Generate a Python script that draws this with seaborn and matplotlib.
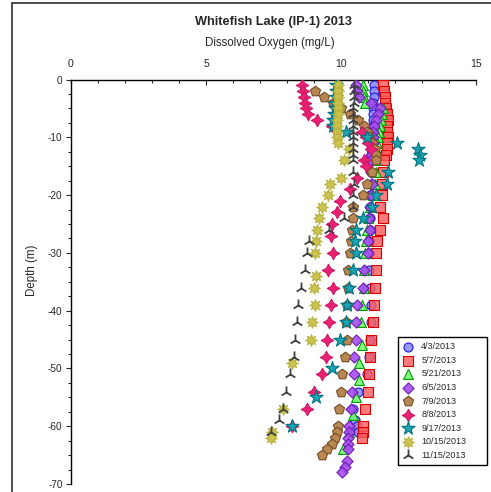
import pandas as pd
import seaborn as sns
import matplotlib.pyplot as plt
from matplotlib.lines import Line2D
from matplotlib.ticker import MultipleLocator

# depth (m) / dissolved oxygen (mg/L), one pair of lists per sampling date
dep_0403 = [1, 2, 3, 4, 5, 6, 7, 8, 9, 10, 11, 12, 13, 14, 16, 18, 20, 22, 24, 26, 28, 30,
            33, 36, 39, 42, 45, 48, 51, 54, 57, 59, 60, 61]
do_0403 = [11.22, 11.22, 11.22, 11.2, 11.2, 11.2, 11.18, 11.18, 11.16, 11.15, 11.13, 11.12, 11.1, 11.1,
           11.1, 11.1, 11.08, 11.07, 11.07, 11.06, 11.05, 11.05, 11.05, 11.07, 11.1, 11.1, 11.07, 11.05,
           10.95, 10.64, 10.43, 10.5, 10.58, 10.62]

dep_0507 = [1, 2, 3, 4, 5, 6, 7, 8, 9, 10, 11, 12, 13, 14, 16, 18, 20, 22, 24, 26, 28, 30,
            33, 36, 39, 42, 45, 48, 51, 54, 57, 60, 61, 62]
do_0507 = [11.54, 11.6, 11.63, 11.63, 11.66, 11.7, 11.73, 11.7, 11.72, 11.75, 11.71, 11.69, 11.67, 11.61,
           11.56, 11.5, 11.5, 11.45, 11.54, 11.44, 11.32, 11.28, 11.29, 11.26, 11.22, 11.17, 11.1, 11.07,
           11.05, 11.01, 10.89, 10.83, 10.8, 10.77]

dep_0521 = [1, 2, 3, 4, 5, 6, 7, 8, 9, 10, 11, 12, 13, 14, 16, 18, 20, 22, 24, 26, 28, 30,
            33, 36, 39, 42, 46, 49, 52, 55, 58, 61, 64]
do_0521 = [10.8, 10.83, 10.86, 10.9, 11.55, 11.5, 11.47, 11.44, 11.4, 11.37, 11.33, 11.3, 11.3, 11.3,
           11.28, 11.27, 11.2, 11.07, 11.0, 10.95, 10.93, 10.89, 10.85, 10.85, 10.77, 10.74, 10.77, 10.68,
           10.68, 10.56, 10.46, 10.3, 10.09]

dep_0605 = [1, 2, 3, 4, 5, 6, 7, 8, 9, 10, 11, 12, 13, 14, 16, 18, 20, 22, 24, 26, 28, 30,
            33, 36, 39, 42, 45, 48, 51, 54, 57, 60, 61, 62, 63, 64, 66, 67, 68]
do_0605 = [10.55, 10.6, 10.68, 11.1, 11.44, 11.38, 11.28, 11.22, 11.2, 11.2, 11.18, 11.15, 11.12, 11.1,
           11.1, 11.15, 11.1, 11.07, 11.05, 11.07, 11.0, 11.0, 10.85, 10.83, 10.6, 10.56, 10.56, 10.49,
           10.47, 10.4, 10.36, 10.31, 10.3, 10.27, 10.27, 10.27, 10.22, 10.15, 10.05]

dep_0709 = [2, 3, 4, 5, 6, 7, 8, 9, 10, 11, 12, 13, 14, 16, 18, 20, 22, 24, 26, 28, 30,
            33, 36, 39, 42, 45, 48, 51, 54, 57, 60, 61, 62, 63, 64, 65]
do_0709 = [9.04, 9.37, 9.7, 10.0, 10.35, 10.62, 10.86, 10.95, 11.05, 11.15, 11.25, 11.3, 11.3,
           11.13, 10.95, 10.82, 10.46, 10.43, 10.4, 10.37, 10.33, 10.27, 10.27, 10.23, 10.19, 10.21,
           10.15, 10.05, 9.99, 9.93, 9.9, 9.84, 9.78, 9.65, 9.49, 9.28]

dep_0808 = [1, 2, 3, 4, 5, 6, 7, 8, 9, 10, 11, 12, 14, 15, 17, 19, 21, 23, 25, 27, 30,
            33, 36, 39, 42, 45, 48, 51, 54, 57, 60]
do_0808 = [8.55, 8.6, 8.63, 8.66, 8.7, 8.79, 9.1, 9.68, 10.78, 10.93, 11.0, 11.1, 10.84, 10.92,
           10.58, 10.33, 9.96, 9.84, 9.65, 9.62, 9.69, 9.5, 9.69, 9.63, 9.56, 9.47, 9.44, 9.31, 9.0,
           8.73, 8.17]

dep_0917 = [1, 2, 3, 4, 5, 6, 7, 8, 9, 10, 11, 12, 13, 14, 16, 18, 20, 22, 24, 26, 28, 30,
            33, 36, 39, 42, 45, 50, 55, 60]
do_0917 = [9.8, 9.82, 9.8, 9.78, 9.76, 9.74, 9.72, 9.7, 10.19, 10.95, 12.06, 12.86, 12.93, 12.89,
           11.75, 11.69, 11.3, 11.13, 10.8, 10.56, 10.52, 10.56, 10.43, 10.31, 10.21, 10.17, 9.98,
           9.65, 9.07, 8.2]

dep_1015 = [1, 2, 3, 4, 5, 6, 7, 8, 9, 10, 11, 12, 14, 17, 18, 20, 22, 24, 26, 28, 30,
            34, 36, 39, 42, 45, 49, 57, 61, 62]
do_1015 = [9.9, 9.9, 9.9, 9.88, 9.88, 9.88, 9.87, 9.86, 9.86, 9.87, 9.88, 10.28, 10.1, 10.0,
           9.58, 9.53, 9.28, 9.2, 9.1, 9.07, 9.04, 9.06, 9.0, 9.04, 8.91, 8.88, 8.17, 7.84, 7.45, 7.4]

dep_1115 = [1, 2, 3, 4, 5, 6, 7, 8, 9, 10, 11, 12, 13, 14, 16, 18, 20, 22, 24, 26, 28, 30,
            33, 36, 39, 42, 45, 48, 51, 54, 57, 59, 61]
do_1115 = [10.48, 10.48, 10.47, 10.47, 10.46, 10.46, 10.46, 10.45, 10.45, 10.46, 10.46, 10.45,
           10.46, 10.46, 10.46, 10.48, 10.46, 10.46, 10.11, 9.56, 8.83, 8.75, 8.67, 8.51, 8.42, 8.36,
           8.3, 8.26, 8.11, 7.96, 7.85, 7.72, 7.41]

dates = ['4/3/2013', '5/7/2013', '5/21/2013', '6/5/2013', '7/9/2013',
         '8/8/2013', '9/17/2013', '10/15/2013', '11/15/2013']
depths = [dep_0403, dep_0507, dep_0521, dep_0605, dep_0709, dep_0808, dep_0917, dep_1015, dep_1115]
oxygen = [do_0403, do_0507, do_0521, do_0605, do_0709, do_0808, do_0917, do_1015, do_1115]

# marker, face colour, edge colour, size
styles = [
    ('o', (0.55, 0.55, 1.0, 0.9), (0.1, 0.1, 0.9), 42),
    ('s', (1.0, 0.35, 0.35, 0.8), (0.85, 0.0, 0.0), 44),
    ('^', (0.45, 1.0, 0.45, 0.9), (0.0, 0.6, 0.0), 50),
    ('D', (0.65, 0.3, 0.95, 0.9), (0.45, 0.1, 0.7), 32),
    ('p', (0.72, 0.53, 0.32, 1.0), (0.45, 0.3, 0.15), 58),
    ((4, 1, 0), (0.93, 0.13, 0.45, 1.0), (0.8, 0.1, 0.4), 80),
    ('*', (0.1, 0.65, 0.7, 1.0), (0.0, 0.45, 0.5), 100),
    ((8, 1, 0), (0.8, 0.77, 0.3, 1.0), (0.72, 0.7, 0.25), 70),
    ('2', (0.25, 0.25, 0.25, 1.0), None, 75),
]

sns.set_style("ticks")
plt.rcParams['font.family'] = ['Liberation Sans', 'DejaVu Sans']
plt.rcParams['axes.unicode_minus'] = False

fig = plt.figure(figsize=(4.91, 4.92), dpi=100)
ax = fig.add_axes([71 / 491, 8 / 492, 405 / 491, 404.5 / 492])

for i in range(len(dates)):
    df = pd.DataFrame({'DO': oxygen[i], 'Depth': [-d for d in depths[i]]})
    mk, fc, ec, s = styles[i]
    if ec is None:
        sns.scatterplot(data=df, x='DO', y='Depth', marker=mk, color=fc, s=s,
                        linewidth=1.3, label=dates[i], ax=ax, zorder=3 + i)
    else:
        sns.scatterplot(data=df, x='DO', y='Depth', marker=mk, color=fc, edgecolor=ec,
                        s=s, linewidth=0.8, label=dates[i], ax=ax, zorder=3 + i)

ax.set_xlim(0, 15)
ax.set_ylim(-70, 0)
ax.xaxis.tick_top()
ax.xaxis.set_label_position('top')
ax.spines['right'].set_visible(False)
ax.spines['bottom'].set_visible(False)
for sp in ['top', 'left']:
    ax.spines[sp].set_linewidth(1.0)
    ax.spines[sp].set_color('black')

ax.set_xticks([0, 5, 10, 15])
ax.xaxis.set_minor_locator(MultipleLocator(1))
ax.set_yticks(range(-70, 1, 10))
ax.yaxis.set_minor_locator(MultipleLocator(2.5))
ax.tick_params(axis='x', which='major', direction='in', length=3.5, width=0.8, pad=7.5, labelsize=7.5)
ax.tick_params(axis='x', which='minor', direction='in', length=2, width=0.8)
ax.tick_params(axis='y', which='major', direction='out', length=3.5, width=0.8, pad=2.5, labelsize=7.2)
ax.tick_params(axis='y', which='minor', direction='out', length=2, width=0.8)

ax.set_xlabel('Dissolved Oxygen (mg/L)', fontsize=8.3)
ax.xaxis.set_label_coords(0.49, 1.091)
ax.xaxis.label.set_va('center')
ax.set_ylabel('Depth (m)', fontsize=8.3)
ax.yaxis.set_label_coords(-0.096, 0.529)
ax.yaxis.label.set_va('center')

fig.text(273.5 / 491, 1 - 22.5 / 492, 'Whitefish Lake (IP-1) 2013', ha='center', va='center',
         fontsize=9.2, fontweight='bold')

leg = ax.legend(loc='lower left', bbox_to_anchor=(0.807, 0.047, 0.219, 0.3), mode='expand',
                borderaxespad=0, fontsize=6.5, frameon=True, fancybox=False, framealpha=1,
                edgecolor='black', borderpad=0.6, labelspacing=0.5, handlelength=1.0,
                handletextpad=1.0)
leg.get_frame().set_linewidth(1.0)

# outer frame visible on the left and top of the original graph page
fig.add_artist(Line2D([12 / 491, 12 / 491], [0, 1 - 3 / 492], color='#303030', lw=1.2))
fig.add_artist(Line2D([12 / 491, 1], [1 - 3 / 492, 1 - 3 / 492], color='#303030', lw=1.2))

fig.savefig('out.png', dpi=100)
